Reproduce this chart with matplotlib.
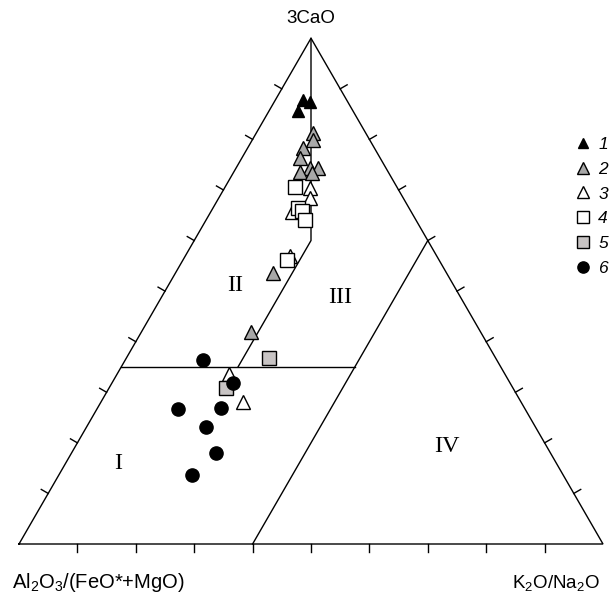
import numpy as np
import matplotlib
matplotlib.use("Agg")
import matplotlib.pyplot as plt

plt.rcParams['font.family'] = ['Liberation Sans', 'DejaVu Sans']
plt.rcParams['mathtext.default'] = 'regular'

# ternary values, percent: 3CaO (top) and K2O/Na2O (right); the rest is Al2O3/(FeO*+MgO)
cao_1 = [87.8, 87.3, 85.7]
k2o_1 = [4.7, 6.2, 5.0]

cao_2 = [81.2, 79.9, 78.2, 76.3, 74.3, 74.3, 73.6, 73.3, 53.5, 42.0]
k2o_2 = [9.7, 10.4, 9.5, 9.9, 12.7, 14.0, 11.3, 13.5, 16.8, 18.7]

cao_3 = [70.4, 68.4, 65.6, 56.9, 33.6, 28.1]
k2o_3 = [14.6, 15.7, 13.9, 17.9, 19.2, 24.3]

cao_4 = [70.6, 66.4, 65.8, 64.1, 56.1]
k2o_4 = [12.0, 14.6, 15.6, 16.9, 17.8]

cao_5 = [36.7, 30.8]
k2o_5 = [24.5, 20.0]

cao_6 = [36.4, 31.8, 26.7, 26.9, 23.1, 18.0, 13.6]
k2o_6 = [13.3, 20.7, 13.8, 21.2, 20.5, 24.8, 22.9]

series_labels = ['1', '2', '3', '4', '5', '6']

region_names = ['I', 'II', 'III', 'IV']
region_cao = [16.0, 51.2, 48.8, 19.2]
region_k2o = [8.9, 11.4, 30.6, 63.7]

H = np.sqrt(3) / 2


def tern(cao, k2o):
    t = np.asarray(cao, float) / 100.0
    r = np.asarray(k2o, float) / 100.0
    return r + t / 2, t * H


fig = plt.figure(figsize=(6.11, 5.97), dpi=100)
ax = fig.add_axes([0, 0, 1, 1])
ax.set_xlim(-19 / 584, 592 / 584)
ax.set_ylim(-53 / 584, 544 / 584)
ax.axis('off')

lw = 1.0
# outer triangle
ax.plot([0, 1, 0.5, 0], [0, 0, H, 0], color='black', lw=lw, solid_joinstyle='miter')

# ticks, perpendicular to each side, pointing out
tl = 8 / 584
for f in np.arange(1, 10) / 10:
    ax.plot([f, f], [0, -tl], color='black', lw=lw)
    x, y = 0.5 * f, H * f
    ax.plot([x, x - tl * H], [y, y + tl * 0.5], color='black', lw=lw)
    x, y = 1 - 0.5 * f, H * f
    ax.plot([x, x + tl * H], [y, y + tl * 0.5], color='black', lw=lw)

# field boundaries
x, y = tern([35, 35], [0, 40])
ax.plot(x, y, color='black', lw=lw)
x, y = tern([0, 60], [40, 40])
ax.plot(x, y, color='black', lw=lw)
x, y = tern([35, 60, 100], [20, 20, 0])
ax.plot(x, y, color='black', lw=lw)

for name, c, k in zip(region_names, region_cao, region_k2o):
    x, y = tern(c, k)
    ax.text(x, y, name, ha='center', va='center', fontsize=17.5,
            family=['Liberation Serif', 'DejaVu Serif'])

styles = [
    dict(marker='^', mfc='black', ms=9),
    dict(marker='^', mfc='#a8a8a8', ms=10),
    dict(marker='^', mfc='white', ms=10),
    dict(marker='s', mfc='white', ms=10),
    dict(marker='s', mfc='#c8c4c4', ms=10),
    dict(marker='o', mfc='black', ms=9.5),
]
data = [(cao_1, k2o_1), (cao_2, k2o_2), (cao_3, k2o_3),
        (cao_4, k2o_4), (cao_5, k2o_5), (cao_6, k2o_6)]
handles = []
for (c, k), st, lab in zip(data, styles, series_labels):
    x, y = tern(c, k)
    h, = ax.plot(x, y, ls='none', mec='black', mew=1.0, label=lab, **st)
    handles.append(h)

ax.legend(handles=handles, loc='upper left', bbox_to_anchor=(574 / 611, 1 - 137 / 597),
          frameon=False, prop={'style': 'italic', 'size': 12.5}, handlelength=1.0,
          handletextpad=0.4, borderpad=0, borderaxespad=0, labelspacing=0.55,
          markerscale=0.85)

ax.annotate('3CaO', xy=(0.5, H), xytext=(0, 20), textcoords='offset pixels',
            ha='center', va='center', fontsize=13.5)
ax.annotate(r'Al$_2$O$_3$/(FeO*+MgO)', xy=(0, 0), xytext=(-7, -39),
            textcoords='offset pixels', ha='left', va='center', fontsize=14.5)
ax.annotate(r'K$_2$O/Na$_2$O', xy=(1, 0), xytext=(-3, -39),
            textcoords='offset pixels', ha='right', va='center', fontsize=13.5)

fig.savefig('out.png', dpi=100)
